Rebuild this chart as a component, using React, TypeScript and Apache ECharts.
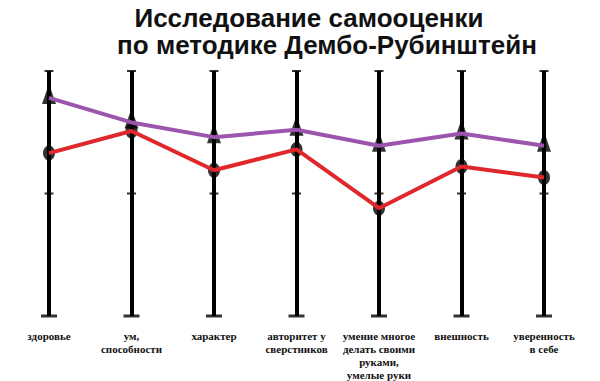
import React, { useEffect, useRef } from "react";
import * as echarts from "echarts";

const categories = [
  "здоровье",
  "ум,\nспособности",
  "характер",
  "авторитет у\nсверстников",
  "умение многое\nделать своими\nруками,\nумелые руки",
  "внешность",
  "уверенность\nв себе",
];
const purpleValues = [89, 79, 73, 76, 69.5, 74.5, 69.5];
const redValues = [66.5, 75.5, 59.5, 68, 44, 61, 56.5];
const axisTickValues = [100, 50];
const axisBaseValue = 0;

const titleLine1 = "Исследование самооценки";
const titleLine2 = "по методике Дембо-Рубинштейн";

export default function App() {
  const ref = useRef<HTMLDivElement>(null);
  useEffect(() => {
    if (!ref.current) return;
    const chart = echarts.init(ref.current, null, { renderer: "svg" });
    const smallTicks: any[] = [];
    categories.forEach((_, i) => axisTickValues.forEach((v) => smallTicks.push([i, v])));
    const baseTicks = categories.map((_, i) => [i, axisBaseValue]);
    chart.setOption({
      animation: false,
      backgroundColor: "#ffffff",
      title: [
        {
          text: titleLine1,
          left: 309,
          top: 5,
          padding: 0,
          textAlign: "center",
          textStyle: { fontFamily: "Liberation Sans", fontWeight: "bold", fontSize: 26, lineHeight: 26, color: "#111" },
        },
        {
          text: titleLine2,
          left: 327,
          top: 32,
          padding: 0,
          textAlign: "center",
          textStyle: { fontFamily: "Liberation Sans", fontWeight: "bold", fontSize: 26, lineHeight: 26, color: "#111" },
        },
      ],
      grid: { left: 49, right: 56, top: 71, bottom: 65 },
      xAxis: {
        type: "category",
        data: categories,
        boundaryGap: false,
        axisLine: { show: false },
        axisTick: { show: false },
        splitLine: { show: true, interval: 0, lineStyle: { color: "#000", width: 4 } },
        axisLabel: {
          interval: 0,
          margin: 13,
          fontFamily: "Liberation Serif",
          fontWeight: "bold",
          fontSize: 11,
          lineHeight: 13,
          color: "#111",
          align: "center",
        },
      },
      yAxis: {
        type: "value",
        min: 0,
        max: 100,
        show: false,
        splitLine: { show: false },
      },
      series: [
        {
          type: "scatter",
          data: smallTicks,
          symbol: "rect",
          symbolSize: [9, 2],
          itemStyle: { color: "#000" },
          z: 1,
          silent: true,
        },
        {
          type: "scatter",
          data: baseTicks,
          symbol: "rect",
          symbolSize: [16, 3],
          itemStyle: { color: "#000" },
          z: 1,
          silent: true,
        },
        {
          type: "scatter",
          data: purpleValues,
          symbol: "triangle",
          symbolSize: [14, 20],
          symbolOffset: [0, -4],
          itemStyle: { color: "#000" },
          z: 2,
        },
        {
          type: "scatter",
          data: redValues,
          symbol: "circle",
          symbolSize: [12, 15],
          itemStyle: { color: "#000" },
          z: 2,
        },
        {
          type: "line",
          data: purpleValues,
          showSymbol: false,
          lineStyle: { color: "#9b55ad", width: 4 },
          z: 3,
        },
        {
          type: "line",
          data: redValues,
          showSymbol: false,
          lineStyle: { color: "#e0282c", width: 4 },
          z: 3,
        },
      ],
    });
    return () => chart.dispose();
  }, []);
  return (
    <div
      ref={ref}
      style={{ position: "fixed", left: 0, top: 0, width: 600, height: 381 }}
    />
  );
}
